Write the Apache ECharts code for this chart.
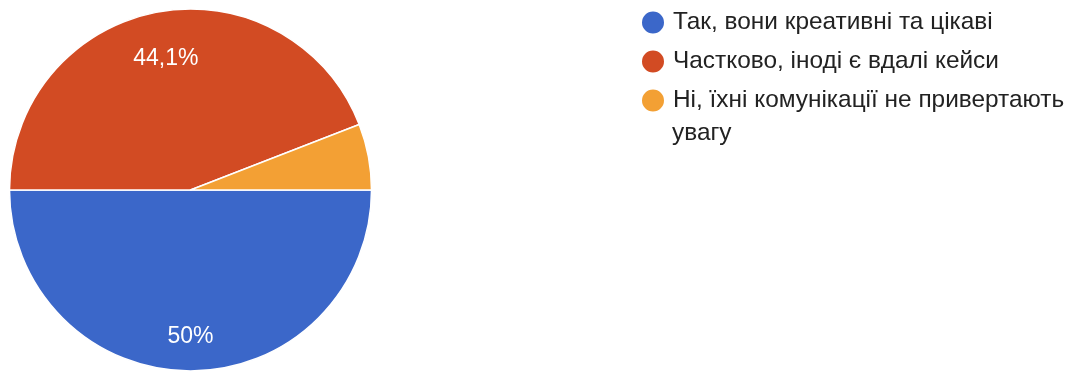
<!DOCTYPE html>
<html lang="uk">
<head>
<meta charset="utf-8">
<title>Опитування</title>
<script src="https://cdn.jsdelivr.net/npm/echarts@6/dist/echarts.min.js"></script>
<style>
  html, body { margin: 0; padding: 0; background: #fff; }
  #chart { width: 1069px; height: 373px; }
</style>
</head>
<body>
<div id="chart"></div>
<script>
// Відповіді (у відсотках)
const categories = [
  'Так, вони креативні та цікаві',
  'Частково, іноді є вдалі кейси',
  'Ні, їхні комунікації не привертають увагу'
];
const shares = [50, 44.1, 5.9];
const colors = ['#3b67c9', '#d24b23', '#f3a034'];

// Geometry of the pie
const PIE_CX = 190.5;
const PIE_CY = 190;
const PIE_R = 181;
// Radial position of each slice label, as a fraction of the radius
const labelRadius = [0.81, 0.74, 0.8];

// Legend block
const LEGEND_LEFT = 640;
const LEGEND_TOP = 6;
const LEGEND_ICON = 24;
const LEGEND_LINE = 33;
const LEGEND_GAP = 6;
const LEGEND_FONT_SIZE = 24.4;

const FONT = '"Liberation Sans", Arial, sans-serif';

const chart = echarts.init(document.getElementById('chart'), null, { renderer: 'canvas' });

const pct = v => String(v).replace('.', ',') + '%';

// The last legend entry is too long for one line: its final word is
// set on a second line, under the text and not under the marker.
const lastSplit = categories[2].lastIndexOf(' ');
const legendFirstLine = name => name === categories[2] ? name.slice(0, lastSplit) : name;
const legendTail = categories[2].slice(lastSplit + 1);

const textLeft = LEGEND_LEFT + LEGEND_ICON + 5 + 3;
const tailY = LEGEND_TOP + (LEGEND_LINE - LEGEND_ICON) / 2 + LEGEND_ICON / 2
  + 2 * (LEGEND_LINE + LEGEND_GAP) + LEGEND_LINE;

chart.setOption({
  animation: false,
  color: colors,
  legend: {
    orient: 'vertical',
    left: LEGEND_LEFT,
    top: LEGEND_TOP,
    padding: 0,
    icon: 'circle',
    itemWidth: LEGEND_ICON,
    itemHeight: LEGEND_ICON,
    itemGap: LEGEND_GAP,
    selectedMode: false,
    formatter: legendFirstLine,
    textStyle: {
      fontFamily: FONT,
      fontSize: LEGEND_FONT_SIZE,
      lineHeight: LEGEND_LINE,
      color: '#222',
      padding: [0, 0, 0, 3]
    },
    data: categories
  },
  graphic: [{
    type: 'text',
    silent: true,
    style: {
      text: legendTail,
      x: textLeft,
      y: tailY,
      verticalAlign: 'middle',
      fontFamily: FONT,
      fontSize: LEGEND_FONT_SIZE,
      fill: '#222'
    }
  }],
  series: [{
    type: 'pie',
    center: [PIE_CX, PIE_CY],
    radius: [0, PIE_R],
    startAngle: 0,
    clockwise: true,
    avoidLabelOverlap: false,
    emphasis: { disabled: true },
    itemStyle: { borderColor: '#fff', borderWidth: 1.5 },
    label: {
      show: true,
      position: 'inside',
      color: '#fff',
      fontFamily: FONT,
      fontSize: 23,
      formatter: p => p.value >= 10 ? pct(p.value) : ''
    },
    labelLine: { show: false },
    labelLayout: params => {
      const r = params.labelRect;
      const lx = r.x + r.width / 2;
      const ly = r.y + r.height / 2;
      const vx = lx - PIE_CX;
      const vy = ly - PIE_CY;
      const cur = Math.sqrt(vx * vx + vy * vy) || 1;
      const k = (labelRadius[params.dataIndex] * PIE_R) / cur - 1;
      return { dx: vx * k, dy: vy * k };
    },
    data: categories.map((name, i) => ({ name, value: shares[i] }))
  }]
});
</script>
</body>
</html>
